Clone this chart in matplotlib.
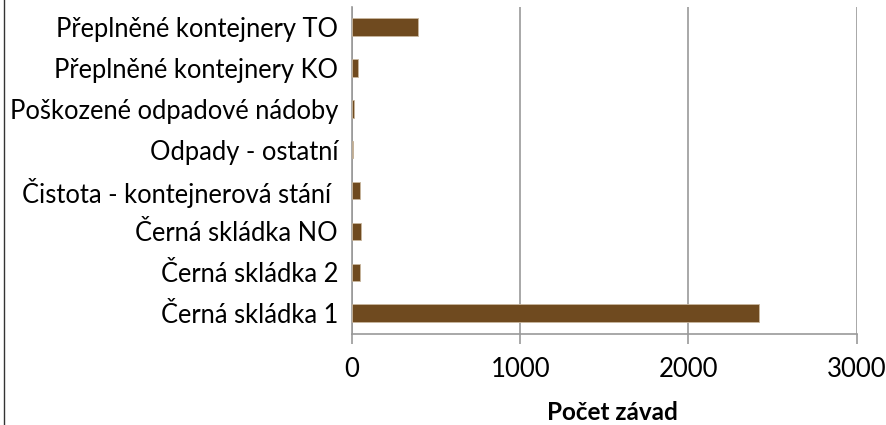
import matplotlib
matplotlib.use("Agg")
import matplotlib.pyplot as plt
from matplotlib.lines import Line2D

categories = [
    "Černá skládka 1",
    "Černá skládka 2",
    "Černá skládka NO",
    "Čistota - kontejnerová stání ",
    "Odpady - ostatní",
    "Poškozené odpadové nádoby",
    "Přeplněné kontejnery KO",
    "Přeplněné kontejnery TO",
]
values = [2420, 46, 54, 48, 8, 14, 38, 390]
xticks = [0, 1000, 2000, 3000]
xlabel = "Počet závad"

plt.rcParams['font.family'] = ['Lato', 'DejaVu Sans']

fig = plt.figure(figsize=(8.86, 4.25), dpi=100)
ax = fig.add_axes([352/886, 1-333.7/425, (856.7-352)/886, (333.7-6.6)/425])

ypos = list(range(len(categories)))
ax.barh(ypos, values, height=0.43, color='#6F4A1F', edgecolor='#c9b79e', linewidth=0.6, zorder=3)
ax.set_xlim(0, 3000)
ax.set_ylim(-0.5, len(categories) - 0.5)
ax.set_xticks(xticks)
ax.set_xticklabels([str(t) for t in xticks], fontsize=18.5)
ax.set_yticks(ypos)
ax.set_yticklabels(categories, fontsize=18.4)
ax.tick_params(axis='y', length=0, pad=10)
ax.tick_params(axis='x', length=7, width=1.2, color='#999999', pad=10, direction='out')
ax.grid(axis='x', color='#999999', linewidth=1.2, zorder=0)
for s in ['top', 'right']:
    ax.spines[s].set_visible(False)
for s in ['left', 'bottom']:
    ax.spines[s].set_color('#999999')
    ax.spines[s].set_linewidth(1.2)
ax.set_xlabel(xlabel, fontsize=17.5, fontweight='bold', va='center', ha='center')
# position label centre at pixel (612, 413)
ax.xaxis.set_label_coords((612-352)/(856.7-352), (333.7-413)/(333.7-6.6))

fig.add_artist(Line2D([4/886, 4/886], [0, 1], transform=fig.transFigure, color='#333333', linewidth=1))

fig.savefig("out.png", dpi=100)
